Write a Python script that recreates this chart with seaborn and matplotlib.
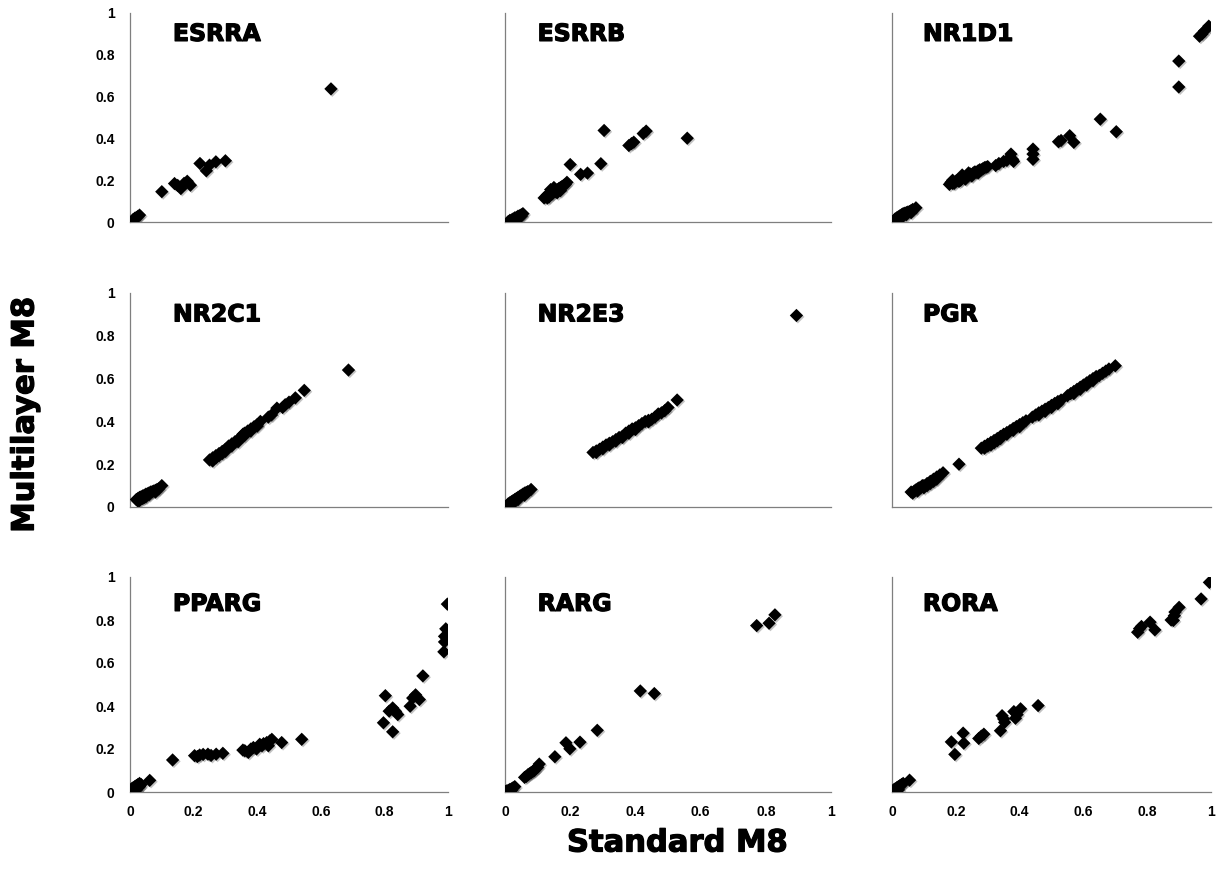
import matplotlib
matplotlib.use("Agg")
import matplotlib.pyplot as plt
import matplotlib.patheffects as pe
import seaborn as sns
import pandas as pd

sns.set_style("white")

genes = ["ESRRA", "ESRRB", "NR1D1", "NR2C1", "NR2E3", "PGR", "PPARG", "RARG", "RORA"]

esrra_x = [0.01, 0.015, 0.02, 0.025, 0.03, 0.10, 0.14, 0.15, 0.16, 0.17, 0.18, 0.19,
           0.22, 0.24, 0.25, 0.27, 0.30, 0.632]
esrra_y = [0.012, 0.018, 0.022, 0.027, 0.033, 0.145, 0.184, 0.175, 0.16, 0.185, 0.195, 0.176,
           0.28, 0.245, 0.272, 0.288, 0.293, 0.637]

esrrb_x = [0.01, 0.015, 0.02, 0.025, 0.03, 0.035, 0.04, 0.045, 0.05, 0.055, 0.02, 0.03, 0.04, 0.05,
           0.12, 0.125, 0.13, 0.135, 0.14, 0.145, 0.15, 0.155, 0.16, 0.165, 0.17, 0.175, 0.18, 0.185,
           0.19, 0.14, 0.15, 0.13, 0.16, 0.17,
           0.20, 0.232, 0.253, 0.294, 0.304, 0.38, 0.388, 0.395, 0.424, 0.433, 0.559]
esrrb_y = [0.002, 0.008, 0.01, 0.015, 0.02, 0.022, 0.028, 0.03, 0.035, 0.04, 0.005, 0.012, 0.02, 0.028,
           0.115, 0.12, 0.13, 0.12, 0.14, 0.135, 0.15, 0.145, 0.155, 0.16, 0.165, 0.17, 0.175, 0.18,
           0.19, 0.155, 0.165, 0.115, 0.14, 0.15,
           0.275, 0.228, 0.234, 0.279, 0.438, 0.366, 0.375, 0.382, 0.423, 0.435, 0.401]

nr1d1_x = [0.01, 0.015, 0.02, 0.025, 0.03, 0.035, 0.04, 0.045, 0.05, 0.055, 0.06, 0.065, 0.075,
           0.02, 0.03, 0.015, 0.045, 0.06,
           0.18, 0.185, 0.19, 0.195, 0.2, 0.205, 0.21, 0.215, 0.22, 0.225, 0.23, 0.235, 0.24, 0.245,
           0.25, 0.255, 0.26, 0.265, 0.27, 0.275, 0.28, 0.285, 0.29, 0.295, 0.30, 0.22, 0.24,
           0.19, 0.21, 0.23, 0.25, 0.27,
           0.325, 0.335, 0.35, 0.36, 0.373, 0.381, 0.378, 0.442, 0.442, 0.442, 0.522, 0.53, 0.557,
           0.57, 0.653, 0.703, 0.899, 0.899, 0.964, 0.972, 0.98, 0.993]
nr1d1_y = [0.015, 0.02, 0.025, 0.03, 0.035, 0.04, 0.042, 0.045, 0.048, 0.05, 0.055, 0.06, 0.068,
           0.01, 0.02, 0.005, 0.035, 0.045,
           0.18, 0.19, 0.2, 0.185, 0.195, 0.2, 0.205, 0.2, 0.21, 0.215, 0.21, 0.22, 0.225, 0.23,
           0.225, 0.235, 0.24, 0.238, 0.245, 0.25, 0.25, 0.255, 0.26, 0.262, 0.265, 0.225, 0.235,
           0.185, 0.195, 0.205, 0.22, 0.235,
           0.27, 0.28, 0.29, 0.295, 0.325, 0.29, 0.30, 0.349, 0.325, 0.30, 0.384, 0.39, 0.413,
           0.381, 0.492, 0.432, 0.77, 0.646, 0.889, 0.9, 0.915, 0.937]

nr2c1_x = [0.02, 0.025, 0.03, 0.035, 0.04, 0.045, 0.05, 0.055, 0.06, 0.065, 0.07, 0.075, 0.08,
           0.085, 0.09, 0.10, 0.03, 0.04, 0.05, 0.025, 0.045, 0.06, 0.08,
           0.25, 0.26, 0.27, 0.28, 0.29, 0.30, 0.31, 0.32, 0.33, 0.34, 0.35, 0.355, 0.36, 0.37,
           0.38, 0.39, 0.40, 0.41, 0.27, 0.29, 0.36,
           0.26, 0.28, 0.30, 0.32, 0.34, 0.36, 0.38, 0.40,
           0.435, 0.445, 0.462, 0.48, 0.488, 0.50, 0.52, 0.548, 0.687]
nr2c1_y = [0.035, 0.04, 0.045, 0.048, 0.052, 0.055, 0.06, 0.062, 0.066, 0.07, 0.072, 0.075, 0.078,
           0.082, 0.085, 0.10, 0.03, 0.04, 0.048, 0.028, 0.045, 0.058, 0.07,
           0.22, 0.23, 0.24, 0.25, 0.26, 0.27, 0.285, 0.295, 0.305, 0.315, 0.33, 0.34, 0.345, 0.355,
           0.365, 0.375, 0.385, 0.40, 0.23, 0.25, 0.335,
           0.215, 0.24, 0.26, 0.285, 0.305, 0.335, 0.355, 0.378,
           0.42, 0.43, 0.462, 0.465, 0.478, 0.49, 0.51, 0.545, 0.64]

nr2e3_x = [0.01, 0.015, 0.02, 0.025, 0.03, 0.035, 0.04, 0.045, 0.05, 0.055, 0.06, 0.065, 0.07,
           0.08, 0.02, 0.03, 0.015, 0.04, 0.06,
           0.27, 0.28, 0.29, 0.30, 0.31, 0.32, 0.33, 0.34, 0.35, 0.36, 0.37, 0.38, 0.39, 0.40,
           0.41, 0.42, 0.43, 0.44, 0.45, 0.46, 0.47, 0.48, 0.49, 0.50,
           0.28, 0.30, 0.32, 0.34, 0.36, 0.38, 0.40, 0.44,
           0.528, 0.894]
nr2e3_y = [0.015, 0.02, 0.025, 0.03, 0.035, 0.04, 0.045, 0.05, 0.055, 0.06, 0.065, 0.068, 0.072,
           0.082, 0.015, 0.025, 0.01, 0.035, 0.055,
           0.255, 0.262, 0.27, 0.28, 0.29, 0.298, 0.305, 0.315, 0.325, 0.33, 0.345, 0.355, 0.365,
           0.37, 0.38, 0.39, 0.40, 0.405, 0.41, 0.42, 0.435, 0.44, 0.45, 0.465,
           0.255, 0.272, 0.29, 0.308, 0.325, 0.345, 0.362, 0.398,
           0.50, 0.895]

pgr_x = [0.06, 0.07, 0.08, 0.09, 0.10, 0.11, 0.12, 0.13, 0.14, 0.15, 0.16, 0.065, 0.075, 0.085,
         0.095, 0.11, 0.13, 0.08, 0.10, 0.12, 0.14,
         0.21,
         0.28, 0.29, 0.30, 0.31, 0.32, 0.33, 0.34, 0.35, 0.36, 0.37, 0.38, 0.39, 0.40, 0.41, 0.42,
         0.29, 0.31, 0.33, 0.30, 0.32, 0.34, 0.36, 0.38, 0.40,
         0.44, 0.45, 0.46, 0.47, 0.48, 0.49, 0.50, 0.51, 0.52, 0.53, 0.46, 0.48, 0.50, 0.52,
         0.55, 0.56, 0.57, 0.58, 0.59, 0.60, 0.61, 0.62, 0.63, 0.64, 0.65, 0.66, 0.67, 0.68, 0.70,
         0.57, 0.59, 0.61, 0.63]
pgr_y = [0.07, 0.075, 0.085, 0.09, 0.10, 0.11, 0.12, 0.13, 0.14, 0.15, 0.16, 0.065, 0.08, 0.09,
         0.10, 0.10, 0.12, 0.075, 0.09, 0.11, 0.13,
         0.20,
         0.275, 0.284, 0.293, 0.302, 0.311, 0.32, 0.33, 0.34, 0.348, 0.357, 0.367, 0.376, 0.385,
         0.394, 0.403,
         0.275, 0.29, 0.31, 0.285, 0.30, 0.32, 0.34, 0.358, 0.375,
         0.42, 0.43, 0.44, 0.448, 0.457, 0.465, 0.475, 0.484, 0.493, 0.50, 0.43, 0.447, 0.465,
         0.483,
         0.52, 0.53, 0.54, 0.55, 0.56, 0.57, 0.58, 0.59, 0.60, 0.61, 0.615, 0.625, 0.635, 0.645,
         0.66, 0.53, 0.55, 0.57, 0.59]

pparg_x = [0.005, 0.01, 0.015, 0.02, 0.025, 0.03, 0.035, 0.02, 0.025, 0.03, 0.015,
           0.062, 0.134, 0.203, 0.212, 0.219, 0.23, 0.245, 0.255, 0.271, 0.292,
           0.355, 0.361, 0.372, 0.38, 0.388, 0.398, 0.408, 0.415, 0.42, 0.43, 0.435, 0.44, 0.446,
           0.477, 0.54,
           0.797, 0.803, 0.815, 0.826, 0.826, 0.835, 0.842, 0.881, 0.889, 0.898, 0.91, 0.921,
           0.987, 0.989, 0.989, 0.993, 0.998]
pparg_y = [0.015, 0.02, 0.025, 0.03, 0.035, 0.04, 0.035, 0.01, 0.02, 0.025, 0.012,
           0.054, 0.149, 0.169, 0.165, 0.172, 0.175, 0.176, 0.17, 0.176, 0.18,
           0.195, 0.192, 0.184, 0.2, 0.207, 0.2, 0.222, 0.215, 0.225, 0.23, 0.215, 0.238, 0.245,
           0.23, 0.245,
           0.322, 0.448, 0.376, 0.391, 0.28, 0.375, 0.36, 0.399, 0.437, 0.452, 0.43, 0.54,
           0.652, 0.698, 0.724, 0.759, 0.874]

rarg_x = [0.002, 0.005, 0.01, 0.015, 0.02, 0.025, 0.03, 0.01, 0.02,
          0.06, 0.065, 0.07, 0.075, 0.08, 0.085, 0.09, 0.095, 0.10, 0.105,
          0.153, 0.187, 0.199, 0.23, 0.283, 0.415, 0.458, 0.772, 0.81, 0.828]
rarg_y = [0.002, 0.005, 0.008, 0.012, 0.015, 0.02, 0.025, 0.0, 0.008,
          0.068, 0.072, 0.08, 0.085, 0.09, 0.095, 0.10, 0.11, 0.115, 0.13,
          0.164, 0.229, 0.201, 0.232, 0.287, 0.47, 0.458, 0.774, 0.785, 0.824]

rora_x = [0.005, 0.01, 0.015, 0.02, 0.025, 0.03, 0.035, 0.02, 0.01,
          0.055, 0.186, 0.197, 0.223, 0.225, 0.272, 0.28, 0.288, 0.34, 0.345, 0.35, 0.353,
          0.382, 0.387, 0.392, 0.403, 0.458,
          0.77, 0.776, 0.782, 0.809, 0.824, 0.875, 0.882, 0.885, 0.887, 0.9, 0.969, 0.995]
rora_y = [0.01, 0.015, 0.02, 0.025, 0.03, 0.035, 0.04, 0.01, 0.005,
          0.055, 0.233, 0.175, 0.274, 0.227, 0.249, 0.26, 0.269, 0.285, 0.355, 0.34, 0.324,
          0.374, 0.343, 0.36, 0.387, 0.402,
          0.743, 0.76, 0.77, 0.79, 0.754, 0.8, 0.798, 0.82, 0.837, 0.859, 0.898, 0.975]

xs = [esrra_x, esrrb_x, nr1d1_x, nr2c1_x, nr2e3_x, pgr_x, pparg_x, rarg_x, rora_x]
ys = [esrra_y, esrrb_y, nr1d1_y, nr2c1_y, nr2e3_y, pgr_y, pparg_y, rarg_y, rora_y]

tick_vals = [0, 0.2, 0.4, 0.6, 0.8, 1]
tick_labels = ["0", "0.2", "0.4", "0.6", "0.8", "1"]

W, H = 1217, 875
fig = plt.figure(figsize=(W / 100, H / 100), dpi=100)

col_left = [130, 505, 892]
col_w = [318, 326, 319]
row_top = [13, 293, 577]
row_bot = [222, 507, 792]
title_x = [0.135, 0.10, 0.097]
title_y = [0.90, 0.90, 0.875]

tick_font = dict(family="Liberation Sans", weight="bold", size=10, color="black")
heavy = [pe.withStroke(linewidth=0.9, foreground="black")]

for i, g in enumerate(genes):
    r, c = divmod(i, 3)
    ax = fig.add_axes([col_left[c] / W, 1 - row_bot[r] / H, col_w[c] / W,
                       (row_bot[r] - row_top[r]) / H])
    df = pd.DataFrame({"x": xs[i], "y": ys[i]})
    sns.scatterplot(data=df, x="x", y="y", ax=ax, marker="D", s=46, color="black",
                    edgecolor="black", linewidth=0, legend=False, zorder=3)
    for coll in ax.collections:
        coll.set_path_effects([pe.SimplePatchShadow(offset=(1, -1), shadow_rgbFace="#555555",
                                                    alpha=0.35), pe.Normal()])
    ax.set_xlim(0, 1)
    ax.set_ylim(0, 1)
    ax.set_xticks(tick_vals)
    ax.set_yticks(tick_vals)
    if r == 2:
        ax.set_xticklabels(tick_labels, fontdict=tick_font)
    else:
        ax.set_xticklabels([])
    if c == 0:
        ax.set_yticklabels(tick_labels, fontdict=tick_font)
    else:
        ax.set_yticklabels([])
    ax.set_xlabel("")
    ax.set_ylabel("")
    for side in ["top", "right"]:
        ax.spines[side].set_visible(False)
    for side in ["left", "bottom"]:
        ax.spines[side].set_color("#7f7f7f")
        ax.spines[side].set_linewidth(0.9)
    ax.tick_params(axis="both", direction="out", length=3, width=0.8, color="#7f7f7f",
                   labelcolor="black")
    ax.tick_params(axis="x", pad=6)
    ax.tick_params(axis="y", pad=8)
    ax.set_facecolor("white")
    ax.text(title_x[c], title_y[r], g, transform=ax.transAxes, ha="left", va="center",
            fontsize=17, fontweight="heavy", family="DejaVu Sans", color="black",
            path_effects=heavy)

fig.text(677 / W, 1 - 843 / H, "Standard M8", ha="center", va="center", fontsize=22,
         fontweight="heavy", family="DejaVu Sans", color="black", path_effects=heavy)
fig.text(25 / W, 1 - 415 / H, "Multilayer M8", ha="center", va="center", rotation=90,
         fontsize=22, fontweight="heavy", family="DejaVu Sans", color="black",
         path_effects=heavy)

fig.savefig("out.png", dpi=100, facecolor="white")
